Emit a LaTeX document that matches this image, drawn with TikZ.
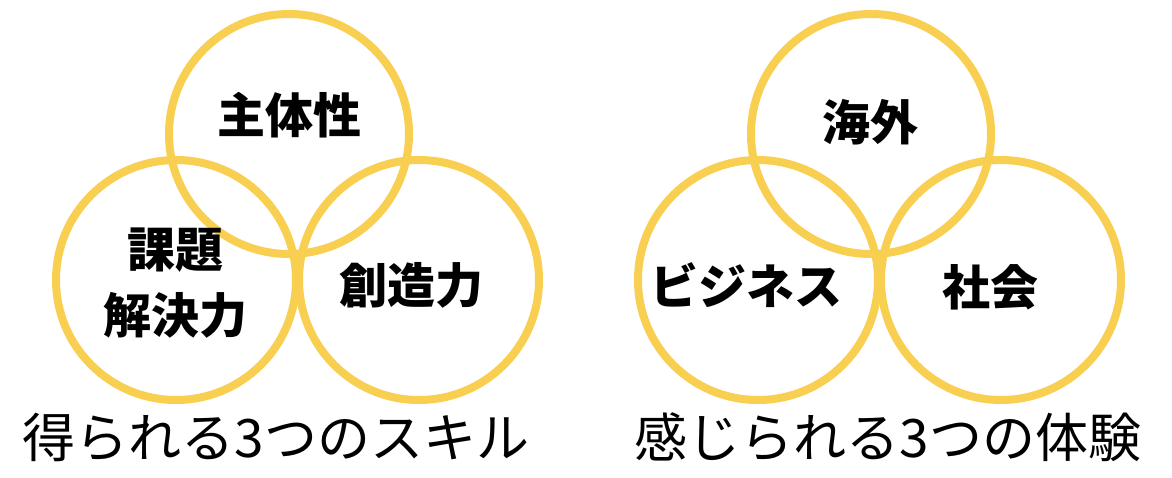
\documentclass[tikz,border=0pt]{standalone}
\usepackage{fontspec}
\usepackage{xcolor}
\usetikzlibrary{positioning}
\definecolor{RingYellow}{RGB}{248,207,80}
\newfontfamily\jpfont{Noto Sans CJK JP}
\tikzset{
  ring/.style={circle,draw=RingYellow,line width=8pt,minimum size=240pt,inner sep=0pt},
  lbl/.style={font=\jpfont\bfseries\fontsize{48}{66}\selectfont,align=center,inner sep=0pt},
  captext/.style={font=\jpfont\fontsize{53}{60}\selectfont,inner sep=0pt},
}
\begin{document}
\begin{tikzpicture}[x=1pt,y=-1pt]
      \useasboundingbox[fill=white] (0,0) rectangle (1172,477);
      % two groups of three rings, the second shifted right
      \foreach \g/\dx in {a/0,b/582} {
        \node[ring] (top-\g) at (289+\dx,134) {};
        \node[ring] (left-\g) at (176+\dx,280) {};
        \node[ring] (right-\g) at (419+\dx,280) {};
      }
      \node[lbl] (shutai) at (289,115) {主体性};
      \node[lbl] (kadai) at (175,283) {課題\\解決力};
      \node[lbl] (sozo) at (411,285) {創造力};
      \node[lbl] (kaigai) at (870,122) {海外};
      \node[lbl] (biz) at (746,285) {ビジネス};
      \node[lbl] (shakai) at (990,287) {社会};
      \node[captext] (cap-a) at (276,437) {得られる3つのスキル};
      \node[captext] (cap-b) at (888,437) {感じられる3つの体験};
    \end{tikzpicture}
\end{document}
